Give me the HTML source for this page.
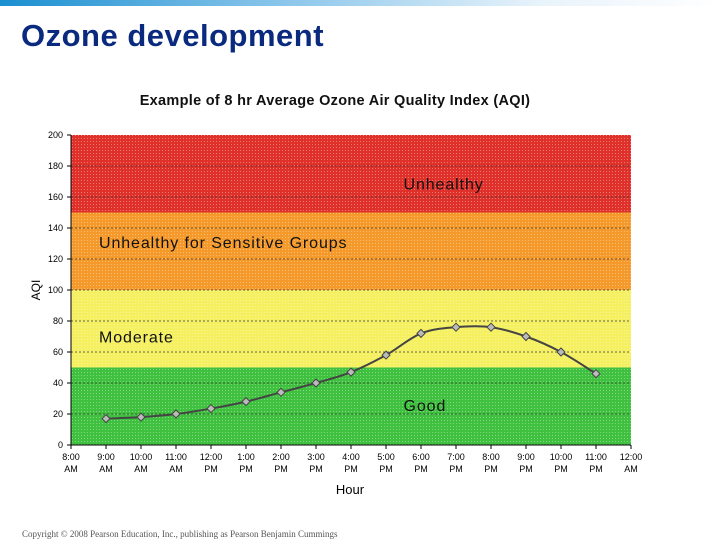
<!DOCTYPE html>
<html><head><meta charset="utf-8"><style>
body{margin:0;width:720px;height:540px;background:#fff;overflow:hidden;font-family:"Liberation Sans",sans-serif;position:relative}
#banner{position:absolute;left:0;top:0;width:720px;height:6px;background:linear-gradient(90deg,#1a8fd0,#7fc0e8 35%,#e8f3fb 75%,#fff)}
#title{position:absolute;left:21px;top:18px;font-size:31px;font-weight:bold;color:#0a2a80;letter-spacing:0.5px}
#copy{position:absolute;left:22px;top:529px;font-family:"Liberation Serif",serif;font-size:9px;color:#555}
</style></head><body>
<div id="banner"></div>
<div id="title">Ozone development</div>
<svg id="chart" width="720" height="540" style="position:absolute;left:0;top:0">
<defs>
<pattern id="dots" width="3" height="3" patternUnits="userSpaceOnUse"><rect width="1" height="1" fill="rgba(255,255,255,0.35)"/></pattern>
</defs>
</svg>
<div id="copy">Copyright © 2008 Pearson Education, Inc., publishing as Pearson Benjamin Cummings</div>
<script>
const hours=["8:00|AM","9:00|AM","10:00|AM","11:00|AM","12:00|PM","1:00|PM","2:00|PM","3:00|PM","4:00|PM","5:00|PM","6:00|PM","7:00|PM","8:00|PM","9:00|PM","10:00|PM","11:00|PM","12:00|AM"];
const pointHours=[1,2,3,4,5,6,7,8,9,10,11,12,13,14,15];
const aqiValues=[17,18,20,23.5,28,34,40,47,58,72,76,76,70,60,46];
const yTicks=[0,20,40,60,80,100,120,140,160,180,200];
const bandLows=[0,50,100,150];
const bandHighs=[50,100,150,200];
const bandColors=["#3fc13f","#f5f060","#f59a2a","#e0302a"];
const bandLabels=["Good","Moderate","Unhealthy for Sensitive Groups","Unhealthy"];
const bandLabelHour=[9.5,0.8,0.8,9.5];
const bandLabelVal=[22,66,127,165];

const svg=document.getElementById('chart');const NS="http://www.w3.org/2000/svg";
const L=71,R=631,T=135,B=445;
const x=h=>L+(R-L)*h/16;
const y=v=>B-(B-T)*v/200;
function mk(tag,a,p){const e=document.createElementNS(NS,tag);for(const k in a)e.setAttribute(k,a[k]);(p||svg).appendChild(e);return e;}
function txt(s,a){const e=mk('text',a);e.textContent=s;return e;}

const t=txt("Example of 8 hr Average Ozone Air Quality Index (AQI)",{x:335,y:105,'text-anchor':'middle','font-size':14.5,'font-weight':'bold','letter-spacing':0.3,fill:'#111'});


bandLows.forEach((lo,i)=>{
 const r=mk('rect',{x:L,y:y(bandHighs[i]),width:R-L,height:y(lo)-y(bandHighs[i]),fill:bandColors[i]});
 
 
 mk('rect',{x:L,y:y(bandHighs[i]),width:R-L,height:y(lo)-y(bandHighs[i]),fill:'url(#dots)'});
});
yTicks.forEach(v=>{
 if(v>0&&v<200){const g=mk('line',{x1:L,x2:R,y1:y(v),y2:y(v),stroke:'#333','stroke-width':0.7,'stroke-dasharray':'2,2'});
 }
 mk('line',{x1:L-4,x2:L,y1:y(v),y2:y(v),stroke:'#000'});
 const l=txt(v,{x:L-8,y:y(v)+3,'text-anchor':'end','font-size':9,fill:'#000'});
 
});
mk('line',{x1:L,x2:L,y1:T,y2:B,stroke:'#000'});
mk('line',{x1:L,x2:R,y1:B,y2:B,stroke:'#000'});
hours.forEach((h,i)=>{
 mk('line',{x1:x(i),x2:x(i),y1:B,y2:B+4,stroke:'#000'});
 const p=h.split('|');
 const a=txt(p[0],{x:x(i),y:B+15,'text-anchor':'middle','font-size':9,fill:'#000'});
 
 txt(p[1],{x:x(i),y:B+27,'text-anchor':'middle','font-size':9,fill:'#000'});
});
bandLabels.forEach((s,i)=>{
 const e=txt(s,{x:x(bandLabelHour[i]),y:y(bandLabelVal[i]),'font-size':16,'letter-spacing':0.9,fill:'#111'});
 
});
const yt=txt("AQI",{x:40,y:290,'font-size':12,fill:'#000',transform:'rotate(-90 40 290)','text-anchor':'middle'});

const xt=txt("Hour",{x:350,y:494,'font-size':13,fill:'#000','text-anchor':'middle'});


const pts=pointHours.map((h,i)=>[x(h),y(aqiValues[i])]);
let d="M"+pts[0][0]+","+pts[0][1];
for(let i=0;i<pts.length-1;i++){
 const p0=pts[Math.max(0,i-1)],p1=pts[i],p2=pts[i+1],p3=pts[Math.min(pts.length-1,i+2)];
 const c1=[p1[0]+(p2[0]-p0[0])/6,p1[1]+(p2[1]-p0[1])/6],c2=[p2[0]-(p3[0]-p1[0])/6,p2[1]-(p3[1]-p1[1])/6];
 d+=` C${c1[0]},${c1[1]} ${c2[0]},${c2[1]} ${p2[0]},${p2[1]}`;
}
const ln=mk('path',{d:d,fill:'none',stroke:'#444','stroke-width':2});

pts.forEach(p=>{
 const m=mk('path',{d:`M${p[0]},${p[1]-4}L${p[0]+4},${p[1]}L${p[0]},${p[1]+4}L${p[0]-4},${p[1]}Z`,fill:'#bbb',stroke:'#444','stroke-width':1});
 
});
</script>
</body></html>
